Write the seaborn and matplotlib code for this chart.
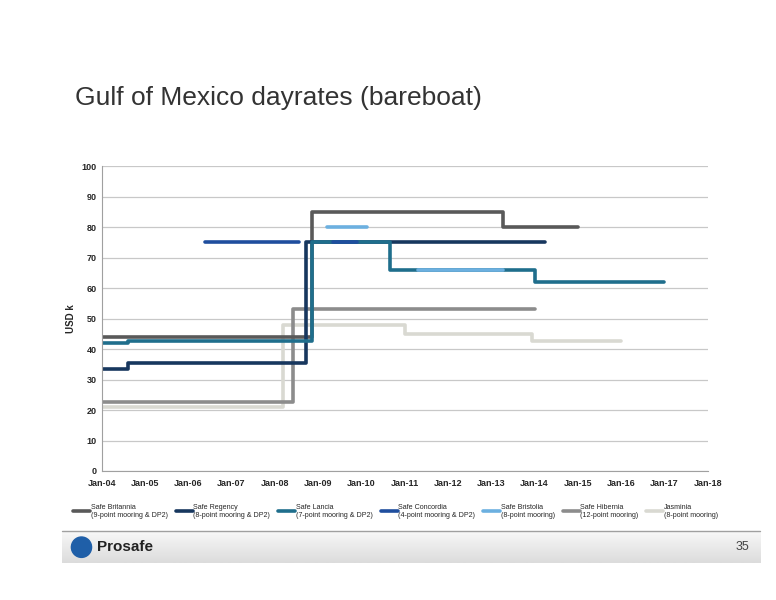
import matplotlib.pyplot as plt
import numpy as np
import pandas as pd
import seaborn as sns
from matplotlib.patches import Ellipse

# step series: (start year, value) points, last point marks end of line
names = ["Safe Britannia\n(9-point mooring & DP2)", "Safe Regency\n(8-point mooring & DP2)",
         "Safe Lancia\n(7-point mooring & DP2)", "Safe Concordia\n(4-point mooring & DP2)",
         "Safe Bristolia\n(8-point mooring)", "Safe Hibernia\n(12-point mooring)",
         "Jasminia\n(8-point mooring)"]
colors = ["#595959", "#17375E", "#1F6E8C", "#1F4E9E", "#6CB0E0", "#8C8C8C", "#D9D9D2"]

britannia_x = [2004.0, 2008.87, 2013.26, 2015.0]
britannia_y = [44, 85, 80, 80]
regency_x = [2004.0, 2004.62, 2008.71, 2014.25]
regency_y = [33.5, 35.5, 75, 75]
lancia_x = [2004.0, 2004.62, 2008.87, 2010.65, 2014.0, 2017.0]
lancia_y = [42, 42.5, 75, 66, 62, 62]
concordia_segs = [([2006.38, 2008.57], [75, 75]), ([2009.35, 2009.9], [75, 75])]
bristolia_segs = [([2009.2, 2010.14], [80, 80]), ([2011.3, 2013.26], [66, 66])]
hibernia_x = [2004.0, 2008.43, 2014.0]
hibernia_y = [22.5, 53, 53]
jasminia_x = [2004.0, 2008.2, 2011.0, 2013.93, 2016.0]
jasminia_y = [21, 48, 45, 42.5, 42.5]

series = [[(britannia_x, britannia_y)], [(regency_x, regency_y)], [(lancia_x, lancia_y)],
          concordia_segs, bristolia_segs, [(hibernia_x, hibernia_y)], [(jasminia_x, jasminia_y)]]
years = list(range(2004, 2019))
tick_labels = [f"Jan-{y % 100:02d}" for y in years]

sns.set_style("white")
plt.rcParams["font.family"] = ["Liberation Sans", "DejaVu Sans"]
fig = plt.figure(figsize=(7.76, 6), dpi=100)
ax = fig.add_axes([0.131, 0.215, 0.781, 0.508])

# draw order: light ones first so dark lines sit on top like the original
order = [6, 5, 0, 1, 2, 3, 4]
for i in order:
    for k, (xs, ys) in enumerate(series[i]):
        df = pd.DataFrame({"x": xs, "y": ys})
        sns.lineplot(data=df, x="x", y="y", ax=ax, color=colors[i], lw=2.6,
                     drawstyle="steps-post", label=names[i] if k == 0 else None,
                     legend=False, sort=False)

ax.set_xlim(2004, 2018)
ax.set_ylim(0, 100)
ax.set_xticks(years)
ax.set_xticklabels(tick_labels, fontsize=6.5, fontweight="bold")
ax.set_yticks(range(0, 101, 10))
ax.set_yticklabels([str(v) for v in range(0, 101, 10)], fontsize=6.5, fontweight="bold")
ax.grid(axis="y", color="#C8C8C8", lw=0.9)
ax.set_xlabel("")
ax.set_ylabel("USD k", fontsize=7, fontweight="bold", labelpad=4)
for s in ["top", "right"]:
    ax.spines[s].set_visible(False)
ax.spines["left"].set_color("#A0A0A0")
ax.spines["bottom"].set_color("#A0A0A0")
ax.tick_params(axis="x", length=3, color="#A0A0A0", pad=3)
ax.tick_params(axis="y", length=0)

handles, labels = ax.get_legend_handles_labels()
lab_map = dict(zip(labels, handles))
fig.legend([lab_map[n] for n in names], names, loc="upper center", bbox_to_anchor=(0.51, 0.165),
           ncol=7, frameon=False, fontsize=5.1, handlelength=2.4, columnspacing=1.1,
           handletextpad=0.1, borderaxespad=0)

fig.text(0.097, 0.825, "Gulf of Mexico dayrates (bareboat)", fontsize=19, color="#333333")

# footer band
band = fig.add_axes([0.08, 0.062, 0.90, 0.053])
grad = np.linspace(0.97, 0.86, 50).reshape(-1, 1)
band.imshow(grad, cmap="gray", vmin=0, vmax=1, aspect="auto", extent=[0, 1, 0, 1])
band.set_xlim(0, 1)
band.set_ylim(0, 1)
band.axis("off")
fig.add_artist(plt.Line2D([0.08, 0.98], [0.115, 0.115], color="#A0A0A0", lw=1))
fig.text(0.125, 0.088, "Prosafe", fontsize=11, fontweight="bold", color="#222222", va="center")
fig.add_artist(Ellipse((0.105, 0.088), 0.026, 0.034, color="#1F5FA8", transform=fig.transFigure))
fig.text(0.965, 0.088, "35", fontsize=9, color="#444444", va="center", ha="right")

fig.savefig("out.png", dpi=100)
